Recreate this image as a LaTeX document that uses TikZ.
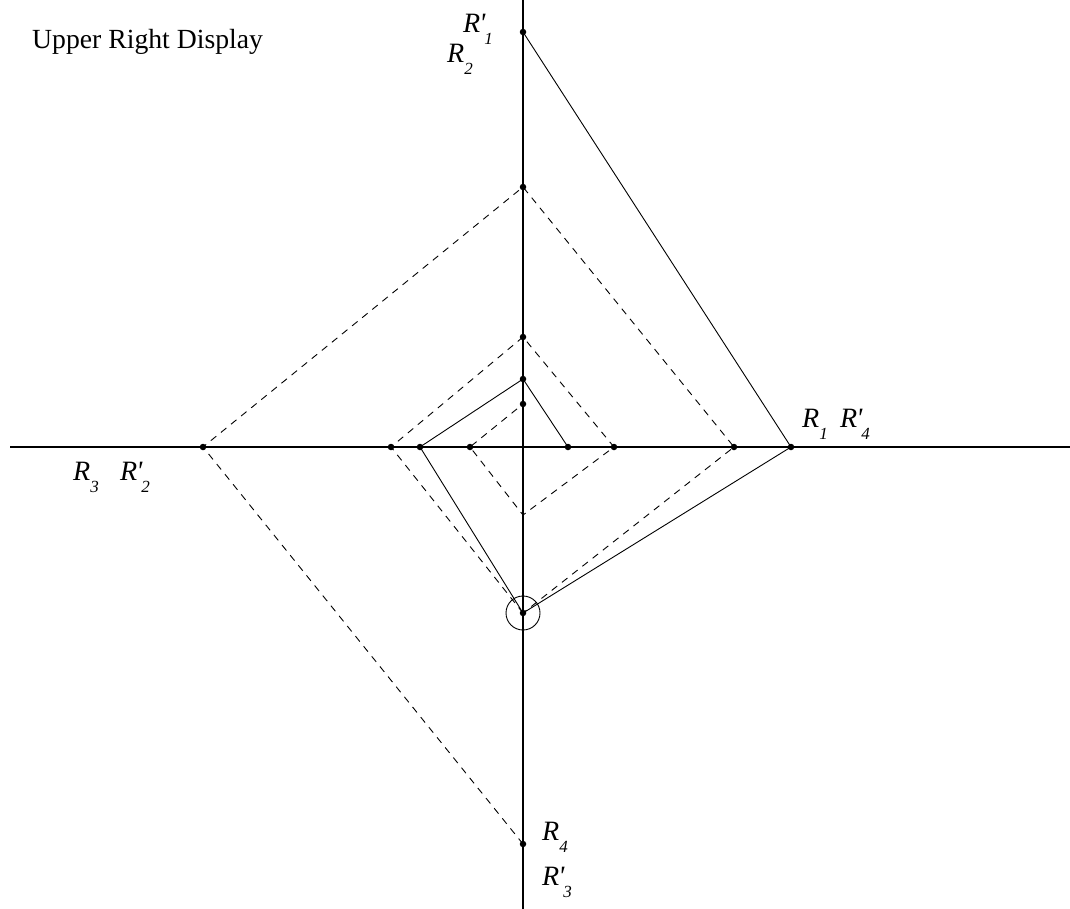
\documentclass[tikz,border=0pt]{standalone}
\usepackage{fontspec}
\setmainfont{Liberation Serif}
\newcommand{\Rlab}[2]{{\fontsize{28bp}{30bp}\selectfont\itshape R#2\raisebox{-0.45em}{\fontsize{17bp}{17bp}\selectfont #1}}}
\newcommand{\myprime}{\kern-1bp\textquotesingle\kern-1bp}
\begin{document}
\begin{tikzpicture}[x=1bp,y=-1bp,
  axis/.style={line width=1.6bp},
  solidln/.style={line width=0.9bp},
  dashln/.style={line width=0.9bp,dash pattern=on 7bp off 6bp},
  pt/.style={circle,fill=black,inner sep=0pt,minimum size=6.5bp},
  lab/.style={anchor=base west,inner sep=0pt}]
\useasboundingbox (0,0) rectangle (1070,909);
% axes
\coordinate (xl) at (10,447);
\coordinate (xr) at (1070,447);
\coordinate (yt) at (523,0);
\coordinate (yb) at (523,909);
\draw[axis] (xl) -- (xr);
\draw[axis] (yt) -- (yb);
% points on vertical axis
\node[pt] (t1) at (523,32) {};
\node[pt] (t2) at (523,187) {};
\node[pt] (t3) at (523,337) {};
\node[pt] (t4) at (523,379) {};
\node[pt] (t5) at (523,404) {};
\coordinate (b1) at (523,515);
\node[pt] (o) at (523,613) {};
\node[pt] (b2) at (523,844) {};
% points on horizontal axis
\node[pt] (l1) at (203,447) {};
\node[pt] (l2) at (391,447) {};
\node[pt] (l3) at (420,447) {};
\node[pt] (l4) at (470,447) {};
\node[pt] (r1) at (568,447) {};
\node[pt] (r2) at (614,447) {};
\node[pt] (r3) at (734,447) {};
\node[pt] (r4) at (791,447) {};
\node[draw,circle,line width=0.9bp,minimum size=34bp,inner sep=0pt] (oc) at (o) {};
% solid lines
\draw[solidln] (t1.center) -- (r4.center) -- (o.center);
\draw[solidln] (r1.center) -- (t4.center) -- (l3.center) -- (o.center);
% dashed lines
\draw[dashln] (b2.center) -- (l1.center) -- (t2.center) -- (r3.center) -- (o.center);
\draw[dashln] (o.center) -- (l2.center) -- (t3.center) -- (r2.center) -- (b1) -- (l4.center) -- (t5.center);
% labels
\node[lab] (title) at (32,48) {\fontsize{27.7bp}{30bp}\selectfont Upper Right Display};
\node[lab] (lR1p) at (463,32) {\Rlab{1}{\myprime}};
\node[lab] (lR2) at (447,62) {\Rlab{2}{}};
\node[lab] (lR1) at (802,427) {\Rlab{1}{}};
\node[lab] (lR4p) at (840,427) {\Rlab{4}{\myprime}};
\node[lab] (lR3) at (73,480) {\Rlab{3}{}};
\node[lab] (lR2p) at (120,480) {\Rlab{2}{\myprime}};
\node[lab] (lR4) at (542,840) {\Rlab{4}{}};
\node[lab] (lR3p) at (542,885) {\Rlab{3}{\myprime}};
\end{tikzpicture}
\end{document}
